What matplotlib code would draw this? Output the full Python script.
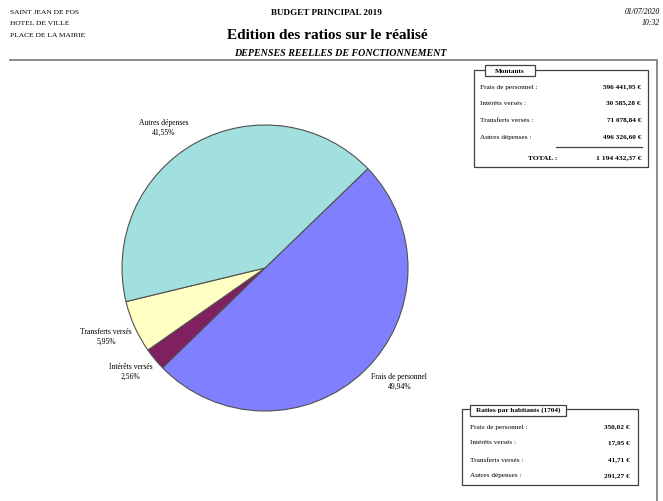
import numpy as np
import matplotlib.pyplot as plt
from matplotlib.patches import Rectangle

plt.rcParams['font.family'] = ['Liberation Serif', 'DejaVu Serif']

categories = ['Frais de personnel', 'Intérêts versés', 'Transferts versés', 'Autres dépenses']
montants = [596441.95, 30585.28, 71078.84, 496326.60]
total_montants = 1194432.37
habitants = 1704
colors = ['#8080ff', '#802060', '#ffffc4', '#a2dfdf']

W, H = 663, 501


def fr_num(v):
    return f"{v:,.2f}".replace(",", " ").replace(".", ",")


fig = plt.figure(figsize=(W / 100, H / 100), dpi=100)

# overlay in pixel coordinates for headers and boxes
bg = fig.add_axes([0, 0, 1, 1])
bg.set_xlim(0, W)
bg.set_ylim(H, 0)
bg.axis('off')

bg.text(10, 12, "SAINT JEAN DE FOS", fontsize=5.4, va='center')
bg.text(10, 23, "HOTEL DE VILLE", fontsize=5.4, va='center')
bg.text(10, 35, "PLACE DE LA MAIRIE", fontsize=5.4, va='center')
bg.text(326, 13, "BUDGET PRINCIPAL 2019", fontsize=6.6, fontweight='bold', ha='center', va='center')
bg.text(327, 35, "Edition des ratios sur le réalisé", fontsize=11, fontweight='bold', ha='center', va='center')
bg.text(340, 53, "DEPENSES REELLES DE FONCTIONNEMENT", fontsize=7.2, fontweight='bold',
        fontstyle='italic', ha='center', va='center')
bg.text(660, 12, "01/07/2020", fontsize=5.6, fontstyle='italic', ha='right', va='center')
bg.text(660, 23, "10:32", fontsize=5.6, fontstyle='italic', ha='right', va='center')

# page frame
bg.plot([10, 657], [60, 60], color='#8a8a8a', lw=1.4)
bg.plot([657, 657], [60, H], color='#8a8a8a', lw=1.4)

# Montants box
bg.add_patch(Rectangle((474, 70), 174, 97, fill=False, ec='#404040', lw=0.9))
bg.add_patch(Rectangle((485, 65), 50, 11, fc='white', ec='#404040', lw=0.9, zorder=3))
bg.text(510, 71, "Montants", fontsize=5.2, fontweight='bold', ha='center', va='center', zorder=4)
rows_y = [87, 103, 120, 137]
for i, (cat, v) in enumerate(zip(categories, montants)):
    bg.text(480, rows_y[i], f"{cat} :", fontsize=5.2, va='center')
    bg.text(641, rows_y[i], f"{fr_num(v)} €", fontsize=5.2, fontweight='bold', ha='right', va='center')
bg.plot([556, 642], [147, 147], color='#404040', lw=0.9)
bg.text(557, 158, "TOTAL :", fontsize=5.4, fontweight='bold', ha='right', va='center')
bg.text(641, 158, f"{fr_num(total_montants)} €", fontsize=5.4, fontweight='bold', ha='right', va='center')

# Ratios par habitants box
bg.add_patch(Rectangle((462, 409), 176, 76, fill=False, ec='#404040', lw=0.9))
bg.add_patch(Rectangle((470, 405), 96, 11, fc='white', ec='#404040', lw=0.9, zorder=3))
bg.text(518, 410.5, f"Ratios par habitants ({habitants})", fontsize=5.2, fontweight='bold',
        ha='center', va='center', zorder=4)
ratio_y = [427, 443, 460, 476]
for i, (cat, v) in enumerate(zip(categories, montants)):
    bg.text(470, ratio_y[i], f"{cat} :", fontsize=5.2, va='center')
    bg.text(630, ratio_y[i], f"{fr_num(v / habitants)} €", fontsize=5.2, fontweight='bold',
            ha='right', va='center')

# pie chart
cx, cy, r = 265, 268, 143
ax = fig.add_axes([(cx - r) / W, (H - cy - r) / H, 2 * r / W, 2 * r / H])
wedges, _ = ax.pie(montants, colors=colors, startangle=44, counterclock=False,
                   wedgeprops=dict(edgecolor='#505050', linewidth=0.8))
ax.set_xlim(-1, 1)
ax.set_ylim(-1, 1)
ax.set_aspect('equal')
ax.axis('off')

# small shifts so the labels sit clear of the wedges
label_nudge = [(0.09, 0.08), (0.0, 0.05), (0.0, 0.02), (-0.12, -0.09)]
total = sum(montants)
for w, cat, v, (nx, ny) in zip(wedges, categories, montants, label_nudge):
    mid = np.deg2rad((w.theta1 + w.theta2) / 2)
    pct = f"{100 * v / total:.2f}".replace(".", ",") + "%"
    ax.text(1.22 * np.cos(mid) + nx, 1.22 * np.sin(mid) + ny, f"{cat}\n{pct}", fontsize=5.5,
            ha='center', va='center', linespacing=1.4, clip_on=False)

fig.savefig("out.png", dpi=100)
